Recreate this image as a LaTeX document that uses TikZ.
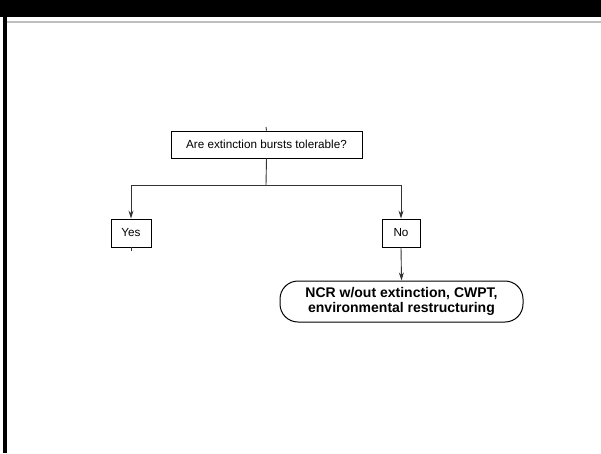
\documentclass[tikz,border=0pt]{standalone}
\usepackage{fontspec}
\setmainfont{Liberation Sans}
\usetikzlibrary{arrows.meta}
\begin{document}
\begin{tikzpicture}[x=1pt,y=-1pt,
  box/.style={draw,line width=0.9pt,inner sep=0pt,font=\fontsize{11.7}{13}\selectfont},
  term/.style={draw,line width=1pt,rounded corners=18pt,inner sep=0pt,align=center,font=\fontsize{14}{15.5}\bfseries\selectfont},
  conn/.style={draw=black!80,line width=0.9pt},
  arr/.style={conn,-{Stealth[length=8pt,width=5pt]}}]
\useasboundingbox (0,0) rectangle (601,453);
\fill[black] (0,0) rectangle (601,17);
\fill[black] (3,17) rectangle (7,453);
\fill[black!25] (7,20.5) rectangle (601,23);
\node[box,minimum width=191pt,minimum height=27pt] (q) at (266.5,144.5) {Are extinction bursts tolerable?};
\node[box,minimum width=40pt,minimum height=28pt] (yes) at (131,233) {Yes};
\node[box,minimum width=38pt,minimum height=28pt] (no) at (401,233) {No};
\node[term,minimum width=243pt,minimum height=41pt] (ncr) at (401.5,301.5) {NCR w/out extinction, CWPT,\\environmental restructuring};
\coordinate (qt) at (266,127);
\coordinate (yb) at (131,251);
\draw[conn] (qt) -- (q.north);
\draw[conn] (yes.south) -- (yb);
\coordinate (j) at (266,185);
\draw[conn] (q.south) -- (j);
\draw[arr] (j) -| (yes.north);
\draw[arr] (j) -| (no.north);
\draw[arr] (no.south) -- (ncr.north);
\end{tikzpicture}
\end{document}
